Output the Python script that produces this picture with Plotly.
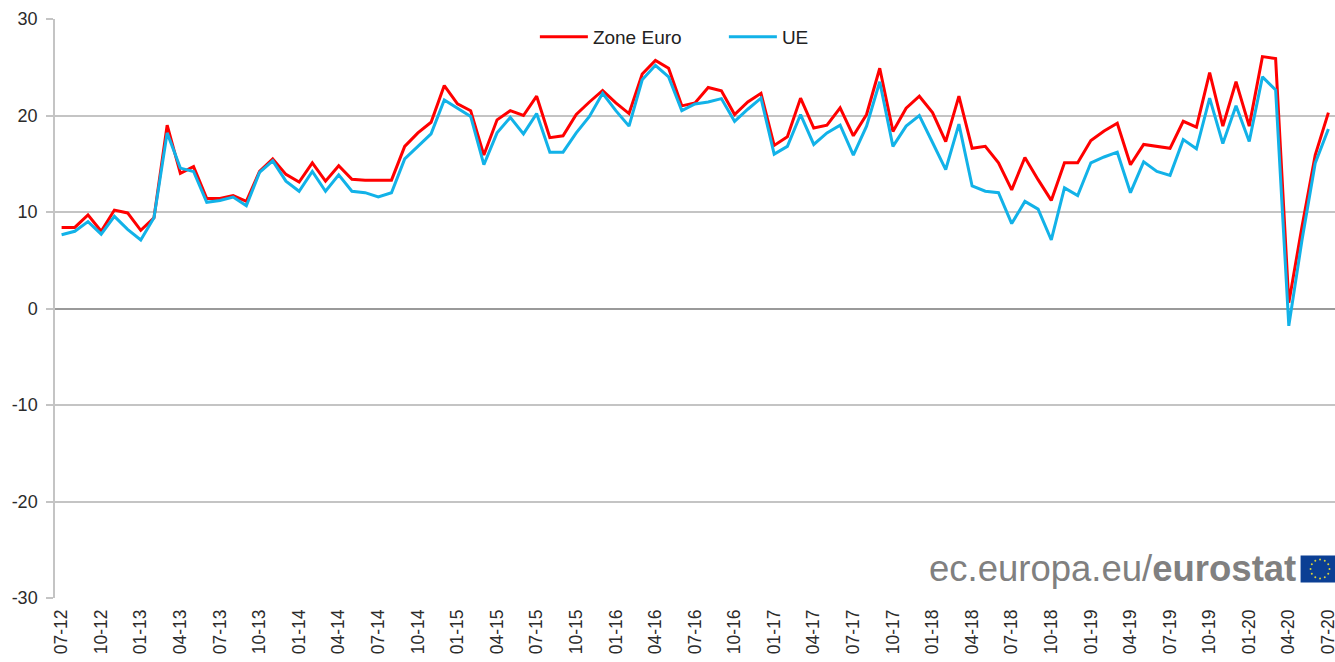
import math
import plotly.graph_objects as go

years_months = [(2012 + (6 + k) // 12, (6 + k) % 12 + 1) for k in range(97)]
months = [f"{m:02d}-{y % 100:02d}" for y, m in years_months]
tick_labels = months[::3]
y_ticks = [-30, -20, -10, 0, 10, 20, 30]
y_labels = ["-30", "-20", "-10", "0", "10", "20", "30"]

zone_euro = [8.4, 8.4, 9.7, 8.0, 10.2, 9.9, 8.1, 9.4, 19.0, 14.0, 14.7, 11.4, 11.4, 11.7, 11.1, 14.2,
             15.5, 13.9, 13.1, 15.1, 13.2, 14.8, 13.4, 13.3, 13.3, 13.3, 16.8, 18.2, 19.3, 23.1,
             21.2, 20.5, 15.9, 19.55, 20.5, 20.0, 22.0, 17.7, 17.9, 20.1, 21.4, 22.6, 21.3, 20.2,
             24.3, 25.7, 24.9, 21.0, 21.3, 22.9, 22.55, 20.1, 21.4, 22.3, 16.9, 17.8, 21.8, 18.7,
             19.0, 20.8, 17.9, 20.1, 24.9, 18.35, 20.75, 22.0, 20.3, 17.3, 22.0, 16.6, 16.8, 15.1,
             12.3, 15.65, 13.35, 11.2, 15.1, 15.1, 17.4, 18.4, 19.2, 14.9, 17.0, 16.8, 16.6, 19.4,
             18.8, 24.45, 18.9, 23.5, 18.9, 26.1, 25.9, 0.6, 8.5, 15.9, 20.3]
ue = [7.65, 8.0, 9.0, 7.7, 9.55, 8.2, 7.1, 9.4, 18.2, 14.55, 14.2, 11.0, 11.2, 11.55, 10.65, 14.1,
      15.3, 13.2, 12.15, 14.2, 12.15, 13.85, 12.15, 12.0, 11.55, 12.0, 15.5, 16.8, 18.1, 21.6,
      20.75, 19.9, 14.9, 18.2, 19.8, 18.1, 20.2, 16.2, 16.2, 18.2, 19.9, 22.3, 20.5, 18.9,
      23.7, 25.2, 24.0, 20.5, 21.2, 21.4, 21.75, 19.4, 20.65, 21.8, 16.0, 16.8, 20.1, 17.0,
      18.2, 19.0, 15.9, 18.9, 23.5, 16.8, 18.9, 20.0, 17.2, 14.4, 19.1, 12.7, 12.15, 12.0,
      8.8, 11.1, 10.3, 7.1, 12.5, 11.7, 15.1, 15.7, 16.2, 12.0, 15.2, 14.2, 13.8, 17.5,
      16.55, 21.8, 17.1, 21.0, 17.3, 24.0, 22.65, -1.8, 7.1, 15.05, 18.6]

W, H = 1338, 663
L, R, T, B = 55.0, 0, 18.5, 64.5
PW, PH = W - L - R, H - T - B
FONT = "Liberation Sans, Arial, sans-serif"
GRID = "#c4c4c4"


def px(x):
    return (x - L) / PW


def py(y):
    return 1 - (y - T) / PH


fig = go.Figure()
fig.add_trace(go.Scatter(x=months, y=zone_euro, name="Zone Euro", mode="lines",
                         line=dict(color="#ff0000", width=3)))
fig.add_trace(go.Scatter(x=months, y=ue, name="UE", mode="lines",
                         line=dict(color="#12b2e8", width=3)))

shapes = [dict(type="rect", xref="paper", yref="paper", x0=px(1303.5), x1=px(1338),
               y0=py(583), y1=py(556), fillcolor="#0b3f94", line_width=0, layer="above")]
cx, cy = 1323, 569.5
for k in range(12):
    a = k * math.pi / 6
    sx, sy = cx + 9.5 * math.cos(a), cy + 9.5 * math.sin(a)
    shapes.append(dict(type="circle", xref="paper", yref="paper",
                       x0=px(sx - 1), x1=px(sx + 1), y0=py(sy + 1), y1=py(sy - 1),
                       fillcolor="#d8d23a", line_width=0, layer="above"))

fig.update_layout(
    width=W, height=H, autosize=False,
    margin=dict(l=L, r=R, t=T, b=B, pad=0),
    paper_bgcolor="white", plot_bgcolor="white",
    font=dict(family=FONT, size=18, color="#2b2b2b"),
    showlegend=True,
    legend=dict(orientation="h", x=px(536), xanchor="left", y=py(17.5), yanchor="top",
                itemwidth=48, entrywidth=126, entrywidthmode="pixels",
                bgcolor="rgba(0,0,0,0)", font=dict(size=19, color="#222222"),
                tracegroupgap=0, itemclick=False, itemdoubleclick=False),
    xaxis=dict(type="category", categoryorder="array", categoryarray=months,
               range=[-0.5, 96.5], tickmode="array", tickvals=tick_labels, ticktext=tick_labels,
               tickangle=-90, ticks="", showgrid=False, zeroline=False, showline=False,
               ticklabelstandoff=7,
               tickfont=dict(size=17.5, color="#2b2b2b")),
    yaxis=dict(range=[-30, 30], tickmode="array", tickvals=y_ticks, ticktext=y_labels,
               ticks="outside", ticklen=7, tickcolor=GRID, tickwidth=1.5,
               showgrid=True, gridcolor=GRID, gridwidth=1.5,
               zeroline=True, zerolinecolor="#9a9a9a", zerolinewidth=2,
               showline=True, linecolor=GRID, linewidth=1.5,
               ticklabelstandoff=5,
               tickfont=dict(size=18, color="#2b2b2b")),
    shapes=shapes,
    annotations=[dict(xref="paper", yref="paper", x=px(1301), y=py(591),
                      xanchor="right", yanchor="bottom", showarrow=False,
                      text="ec.europa.eu/<b>eurostat</b>",
                      font=dict(family=FONT, size=36.5, color="#808080"))],
)

fig.write_html("out.html", config=dict(displayModeBar=False),
               post_script="document.body.style.margin='0';document.body.style.overflow='hidden';")
